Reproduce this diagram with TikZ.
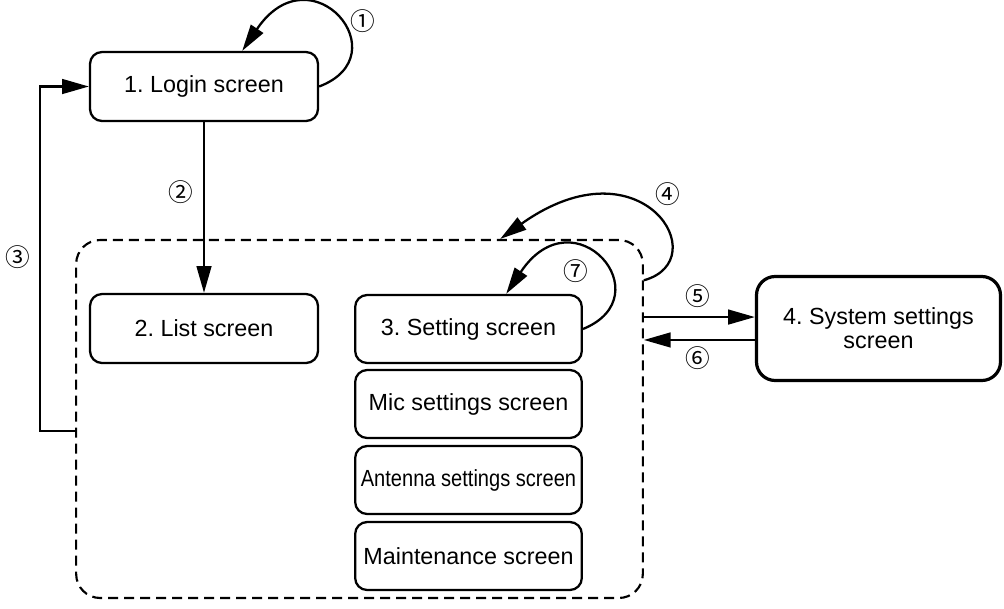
\documentclass[tikz,border=0pt]{standalone}
\usepackage{fontspec}
\setmainfont{Liberation Sans}
\newfontfamily\circfont{Noto Sans CJK JP}
\usetikzlibrary{arrows.meta}
\frenchspacing
\begin{document}
\begin{tikzpicture}[x=0.75pt,y=-0.75pt,
screen/.style = {draw, line width=1.7pt, rounded corners=9pt, minimum width=171pt, minimum height=51.75pt, inner sep=0pt, font=\fontsize{17.5}{18}\selectfont},
sub/.style = {screen, minimum width=170pt, minimum height=51pt},
group/.style = {draw, dash pattern=on 7.5pt off 4.5pt, line width=1.6pt, rounded corners=18pt, minimum width=425pt, minimum height=268.5pt},
num/.style = {inner sep=0pt, font=\circfont\fontsize{18.5}{18.5}\selectfont},
arr/.style = {line width=1.7pt, -{Triangle[length=20pt,width=11pt]}},]
\useasboundingbox (0,0) rectangle (1004,608);
\node (grp) at (359.5,419)[group] {};
\node (login) at (204,86.5)[screen] {1. Login screen};
\node (list) at (204,328.5)[screen] {2. List screen};
\node (setting) at (468.5,329)[sub] {3. Setting screen};
\node (mic) at (468.5,404)[sub] {Mic settings screen};
\node (antenna) at (468.5,480)[sub] {\scalebox{0.86}[1]{Antenna settings screen}};
\node (maint) at (468.5,556)[sub] {Maintenance screen};
\node (system) at (878.5,328.5)[screen, line width=2.4pt, rounded corners=14pt, minimum width=183pt, minimum height=78pt, align=center] {4. System settings\\screen};
\node (c1) at (363,21)[num] {①};
\node (c2) at (181,192)[num] {②};
\node (c3) at (18,257)[num] {③};
\node (c4) at (668,194)[num] {④};
\node (c5) at (698,296)[num] {⑤};
\node (c6) at (698,358)[num] {⑥};
\node (c7) at (576,271)[num] {⑦};
\coordinate (back) at (40,431);
\coordinate (p5) at ([yshift=8.6pt]system.west);
\coordinate (p6) at ([yshift=-8.6pt]system.west);
\draw[arr] (login.east) .. controls +(82,-31) and +(69,-102) .. (login.43);
\draw[arr] (login.south) -- (list.north);
\draw[arr] (back -| grp.west) -- (back) |- (login.west);
\draw[arr] (grp.26) .. controls +(73,-20) and +(142,-101) .. (grp.52);
\draw[arr] (p5 -| grp.east) -- (p5);
\draw[arr] (p6) -- (p6 -| grp.east);
\draw[arr] (setting.east) .. controls +(81,-33) and +(68,-102) .. (setting.43);
\end{tikzpicture}
\end{document}
